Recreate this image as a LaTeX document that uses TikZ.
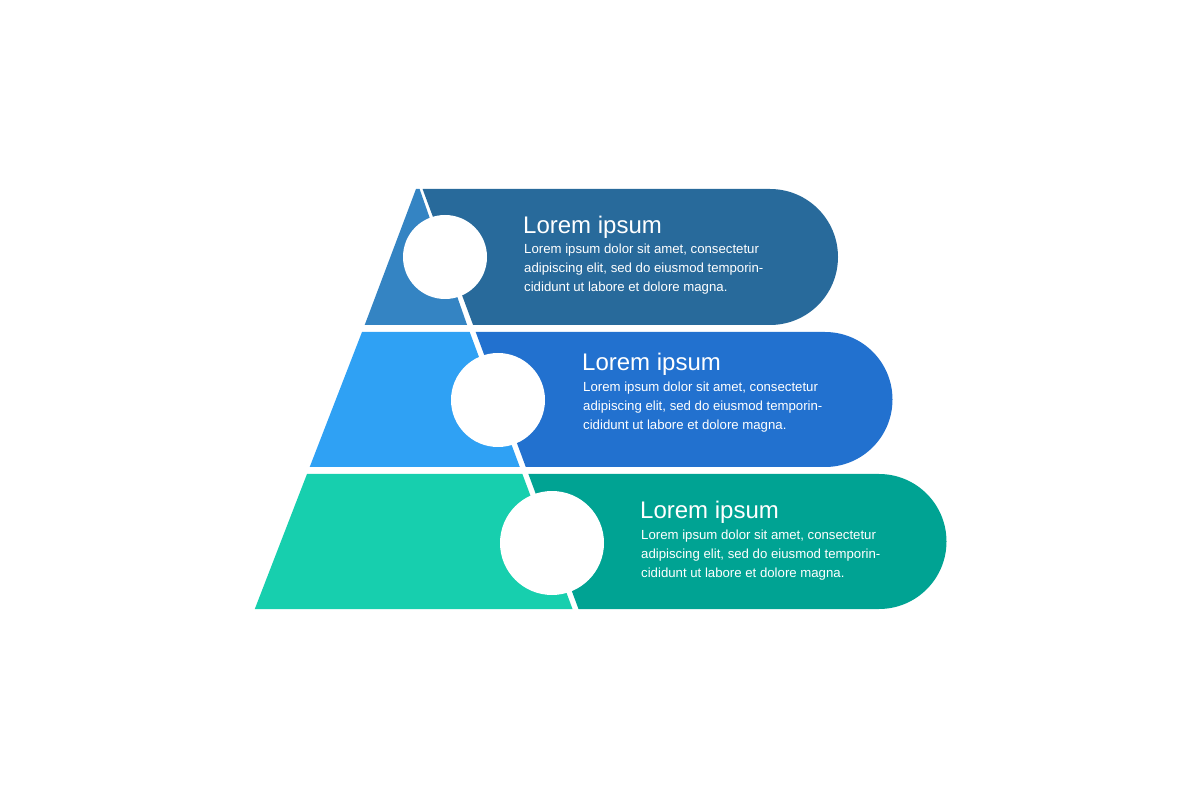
\documentclass[tikz,border=0pt]{standalone}
\usepackage{fontspec}
\setmainfont{Liberation Sans}
\definecolor{tAl}{HTML}{3484C3}\definecolor{tAr}{HTML}{286A9B}
\definecolor{tBl}{HTML}{2FA1F4}\definecolor{tBr}{HTML}{2271CF}
\definecolor{tCl}{HTML}{17CFAE}\definecolor{tCr}{HTML}{00A393}
\tikzset{
 head/.style={anchor=west,text=white,font=\fontsize{24}{28}\selectfont,inner sep=0},
 body/.style={anchor=north west,text=white,align=left,font=\fontsize{13.2}{19}\selectfont,inner sep=0},
 hole/.style={fill=white,circle,inner sep=0}
}
\begin{document}
\begin{tikzpicture}[x=1pt,y=-1pt]
\useasboundingbox (0,0) rectangle (1200,799);
% tier 1
\fill[tAl] (416,189) -- (419.6,189) -- (467.1,325) -- (364.7,325) -- cycle;
\fill[tAr] (422.6,189) -- (770,189) arc[start angle=-90,end angle=90,radius=68] -- (473.1,325) -- cycle;
% tier 2
\fill[tBl] (362,332) -- (469.7,332) -- (519.8,467) -- (309.7,467) -- cycle;
\fill[tBr] (475.7,332) -- (825,332) arc[start angle=-90,end angle=90,radius=67.5] -- (525.8,467) -- cycle;
% tier 3
\fill[tCl] (307,474) -- (522.4,474) -- (572.5,609) -- (254.8,609) -- cycle;
\fill[tCr] (528.4,474) -- (879,474) arc[start angle=-90,end angle=90,radius=67.5] -- (578.5,609) -- cycle;
% circles
\node[hole,minimum size=84pt] (c1) at (445,257) {};
\node[hole,minimum size=94pt] (c2) at (498,400) {};
\node[hole,minimum size=104pt] (c3) at (552,543) {};
% texts
\node[head] (h1) at (523,227) {Lorem ipsum};
\node[body] (b1) at (524,244) {Lorem ipsum dolor sit amet, consectetur\\adipiscing elit, sed do eiusmod temporin-\\cididunt ut labore et dolore magna.};
\node[head] (h2) at (582,364) {Lorem ipsum};
\node[body] (b2) at (583,382) {Lorem ipsum dolor sit amet, consectetur\\adipiscing elit, sed do eiusmod temporin-\\cididunt ut labore et dolore magna.};
\node[head] (h3) at (640,512) {Lorem ipsum};
\node[body] (b3) at (641,530) {Lorem ipsum dolor sit amet, consectetur\\adipiscing elit, sed do eiusmod temporin-\\cididunt ut labore et dolore magna.};
\end{tikzpicture}
\end{document}
